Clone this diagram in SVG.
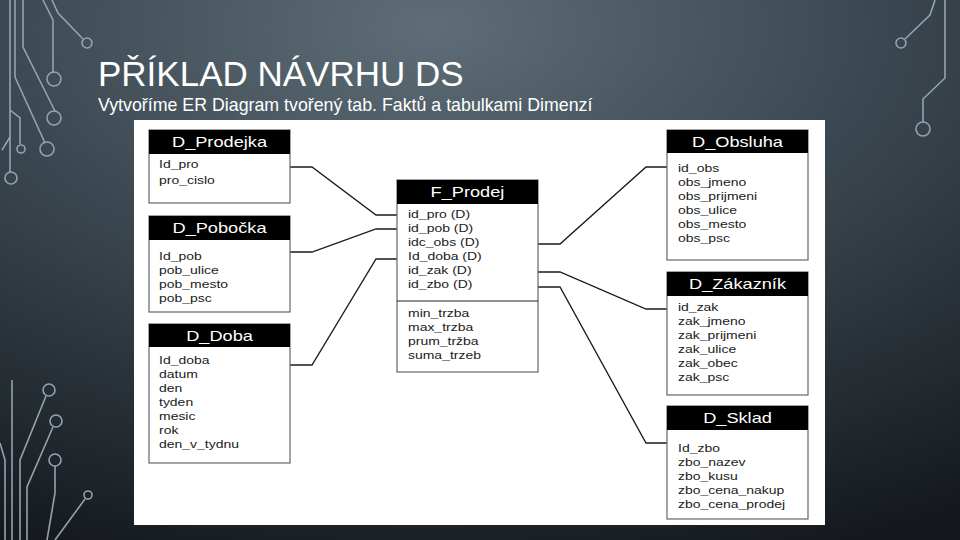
<svg xmlns="http://www.w3.org/2000/svg" width="960" height="540" viewBox="0 0 960 540">
<defs>
<radialGradient id="bg" cx="0.45" cy="0.05" r="1.05" gradientUnits="objectBoundingBox">
<stop offset="0" stop-color="#5e6d77"/>
<stop offset="0.45" stop-color="#3b4750"/>
<stop offset="1" stop-color="#14181c"/>
</radialGradient>
<style>
.circ{fill:none;stroke:#90a4b1;stroke-width:1.6}
.hdr{fill:#000}
.body{fill:#fff;stroke:#666;stroke-width:1.2}
.ht{font-family:"Liberation Sans",Arial,sans-serif;font-size:14px;fill:#fff;text-anchor:middle}
.it{font-family:"Liberation Sans",Arial,sans-serif;font-size:11px;fill:#1a1a1a}
.con{fill:none;stroke:#1a1a1a;stroke-width:1.3}
.title{font-family:"Liberation Sans",Arial,sans-serif;fill:#fff}
</style>
</defs>
<rect width="960" height="540" fill="url(#bg)"/>
<g id="circuits">
<path class="circ" d="M10,0 V172"/><circle class="circ" cx="11" cy="178" r="6"/>
<path class="circ" d="M15,0 V77 L45,143"/><circle class="circ" cx="47" cy="149" r="7"/>
<path class="circ" d="M23,0 V47 L55,111"/><circle class="circ" cx="54" cy="118" r="7"/>
<path class="circ" d="M43,0 L53,20 V72"/><circle class="circ" cx="54" cy="79" r="7"/>
<path class="circ" d="M52,0 L58,13 L83,39"/><circle class="circ" cx="87" cy="43" r="5"/>
<path class="circ" d="M10,110 L20,118 V144"/><circle class="circ" cx="21" cy="149" r="4"/>
<path class="circ" d="M2,150 L10,137"/>
<path class="circ" d="M12,380 V540"/>
<path class="circ" d="M0,443 L5,460 V540"/>
<circle class="circ" cx="49" cy="390" r="6"/><path class="circ" d="M46,396 L20,460 V540"/>
<circle class="circ" cx="56" cy="421" r="6"/><path class="circ" d="M53,427 L27,487 V540"/>
<circle class="circ" cx="55" cy="460" r="6"/><path class="circ" d="M55,466 V493 L47,540"/>
<circle class="circ" cx="88" cy="495" r="4"/><path class="circ" d="M85,499 L55,540"/>
<path class="circ" d="M935,0 L930,15 L905,39"/><circle class="circ" cx="901" cy="43" r="5"/>
<path class="circ" d="M945,0 V78 L923,99 V122"/><circle class="circ" cx="923" cy="129" r="7"/>
</g>
<text class="title" x="98" y="86" font-size="35">PŘÍKLAD NÁVRHU DS</text>
<text class="title" x="98" y="111" font-size="17.8">Vytvoříme ER Diagram tvořený tab. Faktů a tabulkami Dimenzí</text>
<rect x="134" y="120" width="691" height="405" fill="#fff"/>
<g id="connectors">
<polyline class="con" points="290,167 312,167 376,215 397,215"/>
<polyline class="con" points="290,252 312,252 376,229 397,229"/>
<polyline class="con" points="290,365 312,365 376,259 397,259"/>
<polyline class="con" points="538,244 560,244 646,167 667,167"/>
<polyline class="con" points="538,272 560,272 646,309 667,309"/>
<polyline class="con" points="538,287 560,287 646,443 667,443"/>
</g>
<g id="D_Prodejka">
<rect class="body" x="149" y="130" width="141" height="73"/>
<rect class="hdr" x="149" y="130" width="141" height="24"/>
<text class="ht" transform="translate(219.5,147) scale(1.3,1)">D_Prodejka</text>
<g class="it"><text transform="translate(159,168) scale(1.27,1)">Id_pro</text><text transform="translate(159,184) scale(1.27,1)">pro_cislo</text></g>
</g>
<g id="D_Pobocka">
<rect class="body" x="149" y="216" width="141" height="96"/>
<rect class="hdr" x="149" y="216" width="141" height="24"/>
<text class="ht" transform="translate(219.5,233) scale(1.3,1)">D_Pobočka</text>
<g class="it"><text transform="translate(159,260) scale(1.27,1)">Id_pob</text><text transform="translate(159,274) scale(1.27,1)">pob_ulice</text><text transform="translate(159,288) scale(1.27,1)">pob_mesto</text><text transform="translate(159,302) scale(1.27,1)">pob_psc</text></g>
</g>
<g id="D_Doba">
<rect class="body" x="149" y="324" width="141" height="139"/>
<rect class="hdr" x="149" y="324" width="141" height="23"/>
<text class="ht" transform="translate(219.5,341) scale(1.3,1)">D_Doba</text>
<g class="it"><text transform="translate(159,364) scale(1.27,1)">Id_doba</text><text transform="translate(159,378) scale(1.27,1)">datum</text><text transform="translate(159,392) scale(1.27,1)">den</text><text transform="translate(159,406) scale(1.27,1)">tyden</text><text transform="translate(159,420) scale(1.27,1)">mesic</text><text transform="translate(159,434) scale(1.27,1)">rok</text><text transform="translate(159,448) scale(1.27,1)">den_v_tydnu</text></g>
</g>
<g id="F_Prodej">
<rect class="body" x="397" y="180" width="141" height="192"/>
<rect class="hdr" x="397" y="180" width="141" height="24"/>
<line x1="397" y1="301" x2="538" y2="301" stroke="#222" stroke-width="1.2"/>
<text class="ht" transform="translate(467.5,197) scale(1.3,1)">F_Prodej</text>
<g class="it"><text transform="translate(408,218) scale(1.27,1)">id_pro (D)</text><text transform="translate(408,232) scale(1.27,1)">id_pob (D)</text><text transform="translate(408,246) scale(1.27,1)">idc_obs (D)</text><text transform="translate(408,260) scale(1.27,1)">Id_doba (D)</text><text transform="translate(408,274) scale(1.27,1)">id_zak (D)</text><text transform="translate(408,288) scale(1.27,1)">id_zbo (D)</text>
<text transform="translate(408,317) scale(1.27,1)">min_trzba</text><text transform="translate(408,331) scale(1.27,1)">max_trzba</text><text transform="translate(408,345) scale(1.27,1)">prum_tržba</text><text transform="translate(408,359) scale(1.27,1)">suma_trzeb</text></g>
</g>
<g id="D_Obsluha">
<rect class="body" x="667" y="130" width="141" height="130"/>
<rect class="hdr" x="667" y="130" width="141" height="23"/>
<text class="ht" transform="translate(737.5,147) scale(1.3,1)">D_Obsluha</text>
<g class="it"><text transform="translate(678,172) scale(1.27,1)">id_obs</text><text transform="translate(678,186) scale(1.27,1)">obs_jmeno</text><text transform="translate(678,200) scale(1.27,1)">obs_prijmeni</text><text transform="translate(678,214) scale(1.27,1)">obs_ulice</text><text transform="translate(678,228) scale(1.27,1)">obs_mesto</text><text transform="translate(678,242) scale(1.27,1)">obs_psc</text></g>
</g>
<g id="D_Zakaznik">
<rect class="body" x="667" y="272" width="141" height="123"/>
<rect class="hdr" x="667" y="272" width="141" height="24"/>
<text class="ht" transform="translate(737.5,289) scale(1.3,1)">D_Zákazník</text>
<g class="it"><text transform="translate(678,311) scale(1.27,1)">id_zak</text><text transform="translate(678,325) scale(1.27,1)">zak_jmeno</text><text transform="translate(678,339) scale(1.27,1)">zak_prijmeni</text><text transform="translate(678,353) scale(1.27,1)">zak_ulice</text><text transform="translate(678,367) scale(1.27,1)">zak_obec</text><text transform="translate(678,381) scale(1.27,1)">zak_psc</text></g>
</g>
<g id="D_Sklad">
<rect class="body" x="667" y="406" width="141" height="113"/>
<rect class="hdr" x="667" y="406" width="141" height="24"/>
<text class="ht" transform="translate(737.5,423) scale(1.3,1)">D_Sklad</text>
<g class="it"><text transform="translate(678,452) scale(1.27,1)">Id_zbo</text><text transform="translate(678,466) scale(1.27,1)">zbo_nazev</text><text transform="translate(678,480) scale(1.27,1)">zbo_kusu</text><text transform="translate(678,494) scale(1.27,1)">zbo_cena_nakup</text><text transform="translate(678,508) scale(1.27,1)">zbo_cena_prodej</text></g>
</g>
</svg>
